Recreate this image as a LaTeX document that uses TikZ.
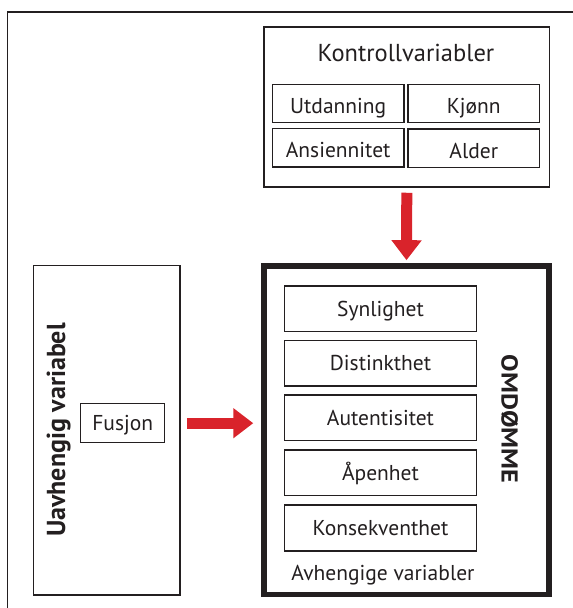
\documentclass[tikz,border=0pt]{standalone}
\usepackage{fontspec}
\usepackage{graphicx}
\setmainfont{PT Sans}
\usetikzlibrary{arrows.meta}
\definecolor{ink}{RGB}{35,31,32}
\definecolor{arrowred}{RGB}{217,35,43}
\begin{document}
\begin{tikzpicture}[x=1pt,y=-1pt,
  box/.style={draw=ink, line width=1.5pt, rectangle, inner sep=0pt},
  lbl/.style={font=\fontsize{21.5}{21.5}\selectfont, text height=15pt, text depth=0pt, text=ink},
  lblk/.style={lbl, text height=20pt},
  heavybox/.style={draw=ink, line width=5.5pt, rectangle, inner sep=0pt},
  bigarrow/.style={draw=arrowred, line width=11pt, -{Triangle[width=29pt,length=20pt]}}]
\useasboundingbox (0,0) rectangle (573,608);
\clip (0,0) rectangle (573,608);
\fill[white] (0,0) rectangle (573,608);
% outer frame (cut off at right and bottom)
\draw[ink, line width=1.7pt] (7.5,640) -- (7.5,12) -- (600,12);
% control variables
\node[box, minimum width=285.5pt, minimum height=160pt] (kon) at (406.8,107) {};
\node[font=\fontsize{24.5}{24.5}\selectfont, text=ink, anchor=base] (kont) at (406,61.7) {Kontrollvariabler};
\node[box, lblk, minimum width=131.6pt, minimum height=38.4pt] (utd) at (338.2,103.5) {Utdanning};
\node[box, lblk, minimum width=131.6pt, minimum height=38.4pt] (kjo) at (473.8,103.5) {Kjønn};
\node[box, lblk, minimum width=131.6pt, minimum height=38.4pt] (ans) at (338.2,147.7) {Ansiennitet};
\node[box, lblk, minimum width=131.6pt, minimum height=38.4pt] (ald) at (473.8,148.3) {Alder};
% independent variable
\node[box, minimum width=146.7pt, minimum height=329.3pt] (uav) at (106.7,430.3) {};
\node[font=\bfseries\fontsize{26}{26}\selectfont, text=ink, rotate=90, anchor=base] (uavt) at (65,430) {Uavhengig variabel};
\node[box, lbl, minimum width=84pt, minimum height=39pt] (fus) at (122.7,423.2) {Fusjon};
% dependent variables
\node[heavybox, minimum width=285pt, minimum height=328.7pt] (om) at (406.5,430.3) {};
\node[box, lbl, minimum width=192.4pt, minimum height=45.6pt] (syn) at (380.5,308.8) {Synlighet};
\node[box, lbl, minimum width=192.4pt, minimum height=45.6pt] (dis) at (380.5,363.2) {Distinkthet};
\node[box, lbl, minimum width=192.4pt, minimum height=45.6pt] (aut) at (380.5,417.8) {Autentisitet};
\node[box, lbl, minimum width=192.4pt, minimum height=45.6pt] (ape) at (380.5,472.8) {Åpenhet};
\node[box, lbl, minimum width=192.4pt, minimum height=45.6pt] (kons) at (380.5,528) {Konsekventhet};
\node[font=\fontsize{21.5}{21.5}\selectfont, text=ink, anchor=base] (avh) at (383,580) {Avhengige variabler};
\node[font=\bfseries\fontsize{23}{23}\selectfont, text=ink, rotate=-90, anchor=base] (omt) at (501.7,419) {\scalebox{1.14}[1]{OMDØMME}};
% arrows
\path (kon.south) ++(0,5) coordinate (d1);
\path (om.north) ++(0,-3) coordinate (d2);
\path (uav.east |- fus.east) ++(6,0) coordinate (r1);
\path (om.west |- fus.east) ++(-8,0) coordinate (r2);
\draw[bigarrow] (d1) -- (d2);
\draw[bigarrow] (r1) -- (r2);
\end{tikzpicture}
\end{document}
